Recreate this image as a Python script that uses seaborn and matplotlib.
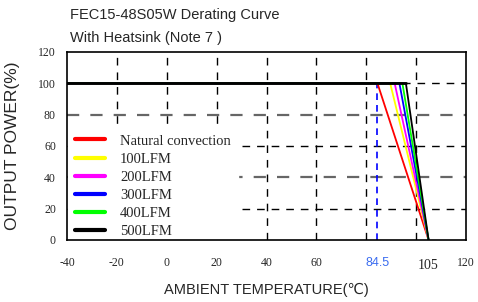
import matplotlib
matplotlib.use("Agg")
import matplotlib.pyplot as plt
import seaborn as sns
import pandas as pd

# ---- data ----
series = ["Natural convection", "100LFM", "200LFM", "300LFM", "400LFM", "500LFM"]
colors = ["#ff0000", "#ffff00", "#ff00ff", "#0000ff", "#00ff00", "#000000"]
t_min = -40
t_knee = [84.5, 89.6, 91.4, 93.3, 94.5, 95.9]
t_max = 105
p_full = 100
p_zero = 0
xtick_vals = [-40, -20, 0, 20, 40, 60, 84.5, 105, 120]
xtick_labels = ["-40", "-20", "0", "20", "40", "60", "84.5", "105", "120"]
ytick_vals = [0, 20, 40, 60, 80, 100, 120]
vgrid = [-20, 0, 20, 40, 60, 80, 100]

rows = []
for s, k in zip(series, t_knee):
    rows += [(s, t_min, p_full), (s, k, p_full), (s, t_max, p_zero)]
df = pd.DataFrame(rows, columns=["series", "temp", "power"])

sns.set_style("white")
plt.rcParams["font.family"] = ["Liberation Serif", "DejaVu Serif"]

fig = plt.figure(figsize=(4.78, 3.02), dpi=100)
ax = fig.add_axes([67 / 478, 1 - 240 / 302, 399 / 478, 188 / 302])

ax.set_xlim(-40, 120)
ax.set_ylim(0, 120)

dash = (0, (5.5, 5))
for v in vgrid:
    ax.axvline(v, color="black", lw=1.0, ls=dash, zorder=1)
hgrid_style = {100: ("black", 1.0), 80: ("#666666", 1.6), 60: ("black", 1.0),
               40: ("#666666", 1.6), 20: ("black", 1.0)}
for yv, (c, lw) in hgrid_style.items():
    ax.axhline(yv, color=c, lw=lw, ls=dash, zorder=1)

ax.plot([84.5, 84.5], [0, 100], color="#0000ff", lw=1.2, ls=(0, (4, 3)), zorder=2)

sns.lineplot(data=df, x="temp", y="power", hue="series", palette=colors,
             hue_order=series, sort=False, lw=1.3, ax=ax, zorder=3)
ax.plot([t_min, t_knee[-1]], [p_full, p_full], color="black", lw=2.0, zorder=4)

leg = ax.legend(handles=ax.get_legend().legend_handles, labels=series,
                loc="lower left", bbox_to_anchor=(0.003, -0.03), borderaxespad=0,
                frameon=True, fancybox=False, edgecolor="white", facecolor="white",
                framealpha=1, prop={"family": "Liberation Serif", "size": 10.5},
                handlelength=2.0, handletextpad=1.05, labelspacing=0.34,
                borderpad=0.5)
leg.set_zorder(2.2)
for h in leg.legend_handles:
    h.set_linewidth(3)

ax.set_xticks(xtick_vals)
ax.set_xticklabels(xtick_labels)
ax.set_yticks(ytick_vals)
ax.tick_params(axis="x", length=0, pad=12, labelsize=8.5)
ax.tick_params(axis="y", direction="in", length=4, pad=8, labelsize=8.5)
for lbl in ax.get_xticklabels():
    if lbl.get_text() == "84.5":
        lbl.set_color("#3a6cf0")
        lbl.set_family("Liberation Sans")
        lbl.set_fontsize(9)
    if lbl.get_text() == "105":
        lbl.set_fontsize(10)
        lbl.set_y(-0.012)

for sp in ax.spines.values():
    sp.set_visible(True)
    sp.set_color("black")
    sp.set_linewidth(1.2)
    sp.set_zorder(3)

ax.set_xlabel("AMBIENT TEMPERATURE(℃)", family=["Liberation Sans", "DejaVu Sans"],
              fontsize=10.5, labelpad=8)
ax.set_ylabel("OUTPUT POWER(%)", family=["Liberation Sans", "DejaVu Sans"],
              fontsize=12.5, labelpad=13)

fig.text(70 / 478, 1 - 8 / 302, "FEC15-48S05W Derating Curve",
         family=["Liberation Sans", "DejaVu Sans"], fontsize=10.5, va="top")
fig.text(70 / 478, 1 - 31 / 302, "With Heatsink (Note 7 )",
         family=["Liberation Sans", "DejaVu Sans"], fontsize=10.5, va="top")

fig.savefig("out.png", dpi=100)
